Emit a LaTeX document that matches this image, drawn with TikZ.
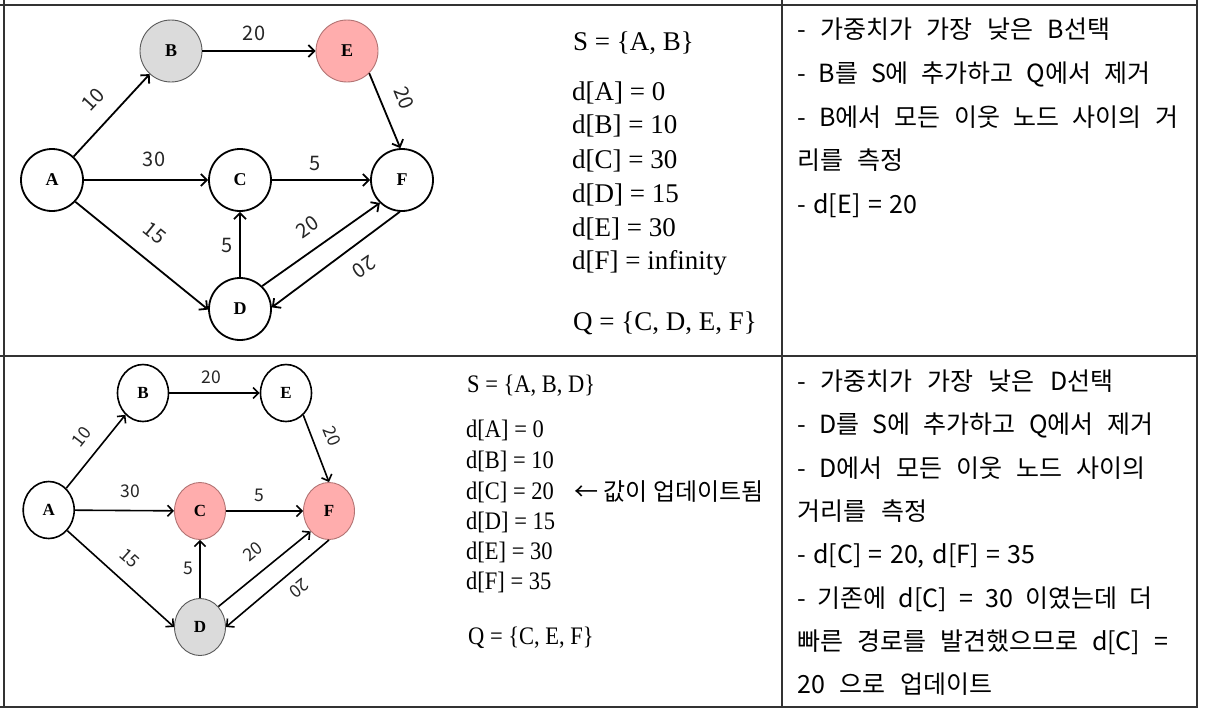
\documentclass[tikz,border=0pt]{standalone}
\usepackage{fontspec}
\setmainfont{Liberation Serif}
\newfontfamily\kr{Noto Sans CJK KR}
\usetikzlibrary{arrows.meta,shapes.geometric}
\newcommand{\vstretch}[1]{\scalebox{1}[1.12]{#1}}
\begin{document}
\begin{tikzpicture}[x=1pt,y=-1pt,
  gridline/.style={line width=1.6pt, draw=black!80},
  vtx/.style={circle, draw=black, line width=1.8pt, fill=white, minimum size=62pt, inner sep=0pt, font=\fontsize{18}{18}\selectfont\bfseries},
  bvtx/.style={ellipse, draw=black, line width=1.6pt, fill=white, minimum width=51pt, minimum height=57pt, inner sep=0pt, font=\fontsize{17}{17}\selectfont\bfseries},
  grayv/.style={fill=gray!28, draw=black!65, line width=0.9pt},
  pinkv/.style={fill=red!32, draw=red!45!black!55, line width=0.9pt},
  edge/.style={line width=1.8pt, -{Straight Barb[length=6pt,width=12pt]}},
  bedge/.style={line width=1.6pt, -{Straight Barb[length=5.5pt,width=11pt]}},
  elab/.style={font=\kr\fontsize{20}{20}\selectfont, text=black!85, inner sep=0pt},
  belab/.style={font=\kr\fontsize{17.5}{17.5}\selectfont, text=black!85, inner sep=0pt},
  stat/.style={anchor=base west, inner sep=0pt, font=\fontsize{27}{27}\selectfont},
  bstat/.style={anchor=base west, inner sep=0pt, font=\fontsize{22.5}{22.5}\selectfont},
  note/.style={anchor=base west, inner sep=0pt, font=\kr\fontsize{25}{25}\selectfont}
]
\useasboundingbox (0,0) rectangle (1206,718);
\fill[white] (0,0) rectangle (1206,718);

% table
\draw[gridline] (0,5) -- (1198,5);
\draw[gridline] (0,356) -- (1198,356);
\draw[gridline] (0,707) -- (1198,707);
\draw[gridline] (4,0) -- (4,708);
\draw[gridline] (782,0) -- (782,708);
\draw[gridline] (1197,0) -- (1197,708);

% ---------- top graph ----------
\node[vtx] (tA) at (52,180) {A};
\node[vtx,grayv] (tB) at (171,51) {B};
\node[vtx,pinkv] (tE) at (347,51) {E};
\node[vtx] (tC) at (240,180) {C};
\node[vtx] (tF) at (402,180) {F};
\node[vtx] (tD) at (240,309) {D};

\draw[edge] (tA) -- (tB);
\draw[edge] (tB) -- (tE);
\draw[edge] (tE.-45) -- (tF.93);
\draw[edge] (tA) -- (tC);
\draw[edge] (tC) -- (tF);
\draw[edge] (tA.-43) -- (tD.181);
\draw[edge] (tD) -- (tC);
\draw[edge] (tD.46) -- (tF.226);
\draw[edge] (tF.266) -- (tD.3);

\node[elab] (tl1) at (254,33) {20};
\node[elab,rotate=47] (tl2) at (93,100) {10};
\node[elab,rotate=-68] (tl3) at (404,98) {20};
\node[elab] (tl4) at (154,159) {30};
\node[elab] (tl5) at (315,163) {5};
\node[elab,rotate=-39] (tl6) at (155,233) {15};
\node[elab] (tl7) at (227,245) {5};
\node[elab,rotate=35] (tl8) at (307,227) {20};
\node[elab,rotate=215] (tl9) at (364,267) {20};

% top state
\node[stat] (ts) at (573,50) {S = \{A, B\}};
\node[stat] (td1) at (572,100) {d[A] = 0};
\node[stat] (td2) at (572,133) {d[B] = 10};
\node[stat] (td3) at (572,168) {d[C] = 30};
\node[stat] (td4) at (572,202) {d[D] = 15};
\node[stat] (td5) at (572,236) {d[E] = 30};
\node[stat] (td6) at (572,269) {d[F] = infinity};
\node[stat] (tq) at (573,330) {Q = \{C, D, E, F\}};

% top notes
\node[note] (tn1) at (797,38) {\makebox[313pt][s]{- 가중치가 가장 낮은 B선택}};
\node[note] (tn2) at (797,82) {\makebox[353pt][s]{- B를 S에 추가하고 Q에서 제거}};
\node[note] (tn3) at (797,126) {\makebox[381pt][s]{- B에서 모든 이웃 노드 사이의 거}};
\node[note] (tn4) at (797,169.5) {\makebox[106pt][s]{리를 측정}};
\node[note] (tn5) at (797,213) {\makebox[120pt][s]{- d[E] = 20}};

% ---------- bottom graph ----------
\node[bvtx] (bA) at (48.7,510) {A};
\node[bvtx] (bB) at (143,393) {B};
\node[bvtx] (bE) at (286,393) {E};
\node[bvtx,pinkv] (bC) at (200,511) {C};
\node[bvtx,pinkv] (bF) at (329,511) {F};
\node[bvtx,grayv] (bD) at (200,627) {D};

\draw[bedge] (bA) -- (bB);
\draw[bedge] (bB) -- (bE);
\draw[bedge] (bE.-52) -- (bF.90);
\draw[bedge] (bA) -- (bC);
\draw[bedge] (bC) -- (bF);
\draw[bedge] (bA.-48) -- (bD.180);
\draw[bedge] (bD) -- (bC);
\draw[bedge] (bD.48) -- (bF.228);
\draw[bedge] (bF.270) -- (bD.0);

\node[belab] (bl1) at (211,377) {20};
\node[belab,rotate=52] (bl2) at (82,437) {10};
\node[belab,rotate=-68] (bl3) at (332,436) {20};
\node[belab] (bl4) at (130,491) {30};
\node[belab] (bl5) at (259,495) {5};
\node[belab,rotate=-42] (bl6) at (130,558) {15};
\node[belab] (bl7) at (188,568) {5};
\node[belab,rotate=39] (bl8) at (253,552) {20};
\node[belab,rotate=219] (bl9) at (299,588) {20};

% bottom state
\node[bstat] (bs) at (467,392) {\vstretch{S = \{A, B, D\}}};
\node[bstat] (bd1) at (466,437) {\vstretch{d[A] = 0}};
\node[bstat] (bd2) at (466,468) {\vstretch{d[B] = 10}};
\node[bstat] (bd3) at (466,499) {\vstretch{d[C] = 20}};
\node[bstat] (bd4) at (466,529) {\vstretch{d[D] = 15}};
\node[bstat] (bd5) at (466,559) {\vstretch{d[E] = 30}};
\node[bstat] (bd6) at (466,589) {\vstretch{d[F] = 35}};
\node[bstat] (bq) at (468,644) {\vstretch{Q = \{C, E, F\}}};
\node[anchor=base west, inner sep=0pt, font=\kr\fontsize{24}{24}\selectfont] (upd) at (574,500) {← 값이 업데이트됨};

% bottom notes
\node[note] (bn1) at (797,390) {\makebox[316pt][s]{- 가중치가 가장 낮은 D선택}};
\node[note] (bn2) at (797,433.5) {\makebox[356pt][s]{- D를 S에 추가하고 Q에서 제거}};
\node[note] (bn3) at (797,477) {\makebox[348pt][s]{- D에서 모든 이웃 노드 사이의}};
\node[note] (bn4) at (797,520.5) {\makebox[130pt][s]{거리를 측정}};
\node[note] (bn5) at (797,563.5) {\makebox[238pt][s]{- d[C] = 20, d[F] = 35}};
\node[note] (bn6) at (797,607) {\makebox[355pt][s]{- 기존에 d[C] = 30 이였는데 더}};
\node[note] (bn7) at (797,650) {\makebox[371pt][s]{빠른 경로를 발견했으므로 d[C] =}};
\node[note] (bn8) at (797,693) {\makebox[195pt][s]{20 으로 업데이트}};
\end{tikzpicture}
\end{document}
